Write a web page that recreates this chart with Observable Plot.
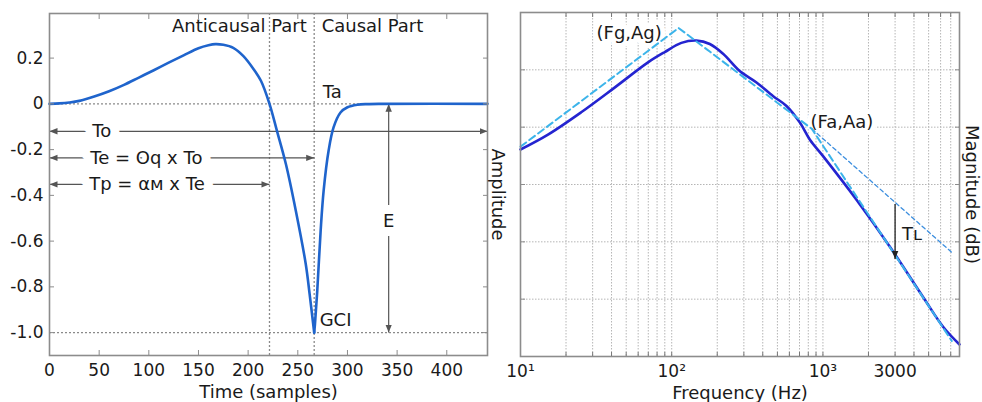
<!DOCTYPE html>
<html><head><meta charset="utf-8">
<script src="https://cdn.jsdelivr.net/npm/d3@7"></script>
<script src="https://cdn.jsdelivr.net/npm/@observablehq/plot@0.6"></script>
<style>
body{margin:0;background:#fff;}
#wrap{position:relative;width:982px;height:402px;overflow:hidden;background:#fff;}
#wrap svg{position:absolute;top:0;overflow:visible;}
</style></head><body><div id="wrap"></div>
<script>
// ---------- Left panel: glottal flow derivative (time domain) ----------
const timeSamples = [0, 10, 20, 30, 45, 60, 75, 90, 105, 120, 135, 150, 160, 167, 175, 185, 195, 205, 213, 221.5, 229, 238, 248, 258, 262, 266.5, 267.3, 269.6, 273, 276, 281, 286, 293, 300, 310, 320, 335, 441];
const amplitude   = [0, 0.002, 0.006, 0.013, 0.032, 0.055, 0.083, 0.115, 0.147, 0.18, 0.212, 0.243, 0.256, 0.261, 0.258, 0.245, 0.21, 0.155, 0.1, 0, -0.118, -0.263, -0.467, -0.70, -0.835, -1.0, -0.962, -0.817, -0.555, -0.38, -0.205, -0.103, -0.038, -0.015, -0.004, -0.001, 0, 0];
const Tp = 221.5, Te = 266.5, Eline = 341.5;
const timeTicks = [0, 50, 100, 150, 200, 250, 300, 350, 400];
const ampTicks = [-1.0, -0.8, -0.6, -0.4, -0.2, 0, 0.2];
// double-headed arrows: To, Te, Tp, E
const arrowX1 = [0, 0, 0, Eline];
const arrowX2 = [441, Te, Tp, Eline];
const arrowY1 = [-0.12, -0.236, -0.352, 0];
const arrowY2 = [-0.12, -0.236, -0.352, -1];
// boxed labels (with white background)
const boxText = ["To", "Te = Oq x To", "Tp = \u03b1\u1d0d x Te", "E"];
const boxX = [43, 41, 40, Eline];
const boxY = [-0.12, -0.236, -0.352, -0.511];
const boxAnchor = ["start", "start", "start", "middle"];
// plain labels
const plainText = ["Anticausal Part", "Causal Part", "Ta", "GCI"];
const plainX = [259, 274, 275, 272];
const plainY = [0.339, 0.339, 0.052, -0.945];
const plainAnchor = ["end", "start", "start", "start"];

// ---------- Right panel: magnitude spectrum ----------
const freqHz = [10, 15.2, 25.2, 41.9, 69.7, 89.9, 115.9, 145.8, 178.6, 218.6, 281.5, 363.6, 469, 574, 704, 820, 1005, 1671, 2778, 4613, 6266, 8000];
const magnitudeDb = [-23.9, -21.3, -17.4, -13.1, -8.7, -6.9, -5.3, -4.9, -5.5, -7.2, -10.2, -12.2, -14.6, -16.3, -19.2, -22.2, -25.1, -32.7, -40.9, -49.7, -54.9, -57.9];
const asymFreq = [10, 111, 845, 7117];
const asymDb = [-23.4, -2.7, -20.3, -57.3];
const slopeFreq = [845, 7295];
const slopeDb = [-20.3, -42.1];
const tlFreq = 3000, tlTop = -33.4, tlBottom = -43.0;
const freqTicks = [10, 100, 1000, 3000];
const freqTickLabels = ["10\u00b9", "10\u00b2", "10\u00b3", "3000"];
const freqGrid = [20, 30, 40, 50, 60, 70, 80, 90, 100, 200, 300, 400, 500, 600, 700, 800, 900, 1000, 2000, 3000, 4000, 5000, 6000, 7000];
const dbGrid = [-50, -40, -30, -20, -10];
const specText = ["(Fg,Ag)", "(Fa,Aa)"];
const specX = [52.3, 1336];
const specY = [-3.6, -19.2];

const FONT = "'DejaVu Sans', Verdana, sans-serif";
const FRAME = "#8c8c8c";

function solidArrow(color, context) {
  const doc = (context && context.document) || document;
  const ns = "http://www.w3.org/2000/svg";
  const m = doc.createElementNS(ns, "marker");
  m.setAttribute("viewBox", "-8 -4 8 8");
  m.setAttribute("markerWidth", 8);
  m.setAttribute("markerHeight", 8);
  m.setAttribute("markerUnits", "userSpaceOnUse");
  m.setAttribute("orient", "auto-start-reverse");
  m.setAttribute("refX", 0);
  m.setAttribute("refY", 0);
  m.setAttribute("fill", color);
  m.setAttribute("stroke", "none");
  const p = doc.createElementNS(ns, "path");
  p.setAttribute("d", "M-8,-3.2L0,0L-8,3.2Z");
  m.appendChild(p);
  return m;
}

function build(marker) {
  const wave = timeSamples.map((t, i) => ({t, v: amplitude[i], part: t <= Te ? "anticausal" : "causal"}));
  wave.push({t: Te, v: -1.0, part: "causal"});
  wave.sort((a, b) => a.t - b.t);
  const arrows = arrowX1.map((x1, i) => ({x1, x2: arrowX2[i], y1: arrowY1[i], y2: arrowY2[i]}));
  const boxes = boxText.map((s, i) => ({s, x: boxX[i], y: boxY[i], a: boxAnchor[i]}));
  const plains = plainText.map((s, i) => ({s, x: plainX[i], y: plainY[i], a: plainAnchor[i]}));

  const left = Plot.plot({
    width: 490, height: 402,
    marginLeft: 49, marginRight: 3, marginTop: 13, marginBottom: 47,
    x: {domain: [0, 441]},
    y: {domain: [-1.1, 0.395]},
    style: {fontFamily: FONT, fontSize: "17px", overflow: "visible", color: "#1a1a1a", background: "transparent"},
    marks: [
      Plot.ruleY([0, -1], {stroke: "#8a8a8a", strokeWidth: 1.3, strokeDasharray: "2,2"}),
      Plot.ruleX([Tp, Te], {stroke: "#8a8a8a", strokeWidth: 1.3, strokeDasharray: "2,2"}),
      Plot.link(arrows, {x1: "x1", x2: "x2", y1: "y1", y2: "y2", stroke: "#555", strokeWidth: 1.2, markerStart: marker, markerEnd: marker}),
      ...["start", "middle"].map(a => Plot.text(boxes.filter(d => d.a === a), {x: "x", y: "y", text: "s", textAnchor: a, fontSize: 18, fill: "#1a1a1a", stroke: "white", strokeWidth: 18, strokeLinejoin: "round", paintOrder: "stroke"})),
      ...["start", "end"].map(a => Plot.text(plains.filter(d => d.a === a), {x: "x", y: "y", text: "s", textAnchor: a, fontSize: 18, fill: "#1a1a1a"})),
      Plot.line(wave, {x: "t", y: "v", z: "part", stroke: "#1f64cc", strokeWidth: 2.6, curve: "catmull-rom"}),
      Plot.frame({stroke: FRAME, strokeWidth: 1.6}),
      Plot.axisX({ticks: timeTicks, tickSize: 0, tickPadding: 8, label: null, fontSize: 17}),
      Plot.axisX({ticks: timeTicks, tickSize: -5, fill: "none", stroke: FRAME, label: null}),
      Plot.axisX({anchor: "top", ticks: timeTicks, tickSize: -5, fill: "none", stroke: FRAME, label: null}),
      Plot.axisY({ticks: ampTicks, tickSize: 0, tickPadding: 6, label: null, fontSize: 17, tickFormat: d => d === 0 ? "0" : d.toFixed(1)}),
      Plot.axisY({ticks: ampTicks, tickSize: -5, fill: "none", stroke: FRAME, label: null}),
      Plot.axisY({anchor: "right", ticks: ampTicks, tickSize: -5, fill: "none", stroke: FRAME, label: null}),
      Plot.text(["Time (samples)"], {frameAnchor: "bottom", lineAnchor: "middle", textAnchor: "middle", dy: 37, fontSize: 18, fill: "#1a1a1a"}),
      Plot.text(["Amplitude"], {frameAnchor: "right", lineAnchor: "middle", textAnchor: "middle", dx: 10, dy: 10, rotate: 90, fontSize: 18, fill: "#1a1a1a"})
    ]
  });

  const spec = freqHz.map((f, i) => ({f, m: magnitudeDb[i]}));
  const asym = asymFreq.map((f, i) => ({f, m: asymDb[i]}));
  const slope = slopeFreq.map((f, i) => ({f, m: slopeDb[i]}));
  const labels = specText.map((s, i) => ({s, f: specX[i], m: specY[i]}));

  const right = Plot.plot({
    width: 492, height: 402,
    marginLeft: 30, marginRight: 23, marginTop: 12, marginBottom: 46,
    x: {type: "log", domain: [10, 8000]},
    y: {domain: [-60, 0]},
    style: {fontFamily: FONT, fontSize: "17px", overflow: "visible", color: "#1a1a1a", background: "transparent"},
    marks: [
      Plot.gridX(freqGrid, {stroke: "#b5b5b5", strokeOpacity: 1, strokeWidth: 1, strokeDasharray: "1.5,1.5"}),
      Plot.gridY(dbGrid, {stroke: "#b5b5b5", strokeOpacity: 1, strokeWidth: 1, strokeDasharray: "1.5,1.5"}),
      Plot.text(labels, {x: "f", y: "m", text: "s", fontSize: 18, fill: "#1a1a1a", stroke: "white", strokeWidth: 10, strokeLinejoin: "round", paintOrder: "stroke"}),
      Plot.line(slope, {x: "f", y: "m", stroke: "#3d8fdf", strokeWidth: 1.3, strokeDasharray: "4,3"}),
      Plot.line(spec, {x: "f", y: "m", stroke: "#2424d0", strokeWidth: 2.6, curve: "catmull-rom"}),
      Plot.line(asym, {x: "f", y: "m", stroke: "#3cb4ea", strokeWidth: 2, strokeDasharray: "7,4"}),
      Plot.link([{x: tlFreq, y1: tlTop, y2: tlBottom}], {x1: "x", x2: "x", y1: "y1", y2: "y2", stroke: "#222", strokeWidth: 1.3, markerEnd: marker}),
      Plot.text(["T\u029f"], {x: [tlFreq], y: [-38.7], dx: 7, textAnchor: "start", fontSize: 18, fill: "#1a1a1a"}),
      Plot.frame({stroke: FRAME, strokeWidth: 1.6}),
      Plot.axisX({ticks: freqTicks, tickSize: 0, tickPadding: 8, label: null, fontSize: 17, tickFormat: d => freqTickLabels[freqTicks.indexOf(d)]}),
      Plot.axisX({ticks: freqGrid, tickSize: -4, fill: "none", stroke: "#777", label: null}),
      Plot.axisX({anchor: "top", ticks: freqGrid, tickSize: -4, fill: "none", stroke: "#777", label: null}),
      Plot.axisY({ticks: dbGrid, tickSize: -5, fill: "none", stroke: FRAME, label: null}),
      Plot.axisY({anchor: "right", ticks: dbGrid, tickSize: -5, fill: "none", stroke: FRAME, label: null}),
      Plot.text(["Frequency (Hz)"], {frameAnchor: "bottom", lineAnchor: "middle", textAnchor: "middle", dy: 37, fontSize: 18, fill: "#1a1a1a"}),
      Plot.text(["Magnitude (dB)"], {frameAnchor: "right", lineAnchor: "middle", textAnchor: "middle", dx: 12, dy: 10, rotate: 90, fontSize: 18, fill: "#1a1a1a"})
    ]
  });
  return [left, right];
}

let plots;
try { plots = build(solidArrow); } catch (e) { plots = build("arrow"); }
const wrap = document.getElementById("wrap");
plots[0].style.left = "0px";
plots[1].style.left = "490px";
wrap.appendChild(plots[0]);
wrap.appendChild(plots[1]);
</script></body></html>
